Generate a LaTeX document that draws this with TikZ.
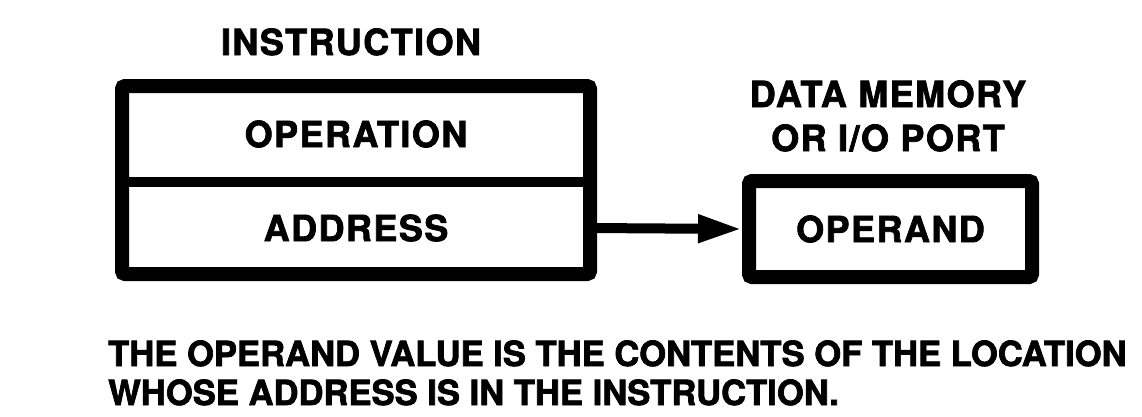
\documentclass[tikz,border=0pt]{standalone}
\usepackage{fontspec}
\setmainfont{TeX Gyre Heros}
\usetikzlibrary{positioning,fit,arrows.meta}

\begin{document}
\begin{tikzpicture}[x=1pt,y=-1pt,
    boxtext/.style={font=\bfseries\fontsize{36}{44}\selectfont\addfontfeature{LetterSpace=4,FakeBold=2}, inner sep=0pt},
    cell/.style={boxtext, minimum width=468pt, outer sep=0pt},
    frame/.style={draw, line width=14pt, rounded corners=3pt, inner sep=0pt},
    pointer/.style={line width=10pt, -{Triangle[length=44pt,width=26pt]}}]
\useasboundingbox (0,0) rectangle (1142,416);
\node[boxtext, anchor=base] (instrtitle) at (351,55) {INSTRUCTION};
\node[cell, minimum height=96pt] (operation) at (356,134) {OPERATION};
\node[cell, minimum height=92pt, below=0pt of operation] (address) {ADDRESS};
\node[frame, fit=(operation)(address)] (instr) {};
\draw[line width=10pt] (operation.south west) -- (operation.south east);
\node[frame, boxtext, minimum width=283pt, minimum height=96pt] (operand) at (890.5,229) {OPERAND};
\node[boxtext, align=center, anchor=base] (memtitle) at (888,151) {DATA MEMORY\\OR I/O PORT};
\draw[pointer] (address.east) -- (operand.west);
\node[font=\bfseries\fontsize{34.6}{39}\selectfont\addfontfeature{FakeBold=2}, inner sep=0pt, align=left, anchor=base west] (note) at (108,405)
    {THE OPERAND VALUE IS THE CONTENTS OF THE LOCATION\\WHOSE ADDRESS IS IN THE INSTRUCTION.};
\end{tikzpicture}
\end{document}
